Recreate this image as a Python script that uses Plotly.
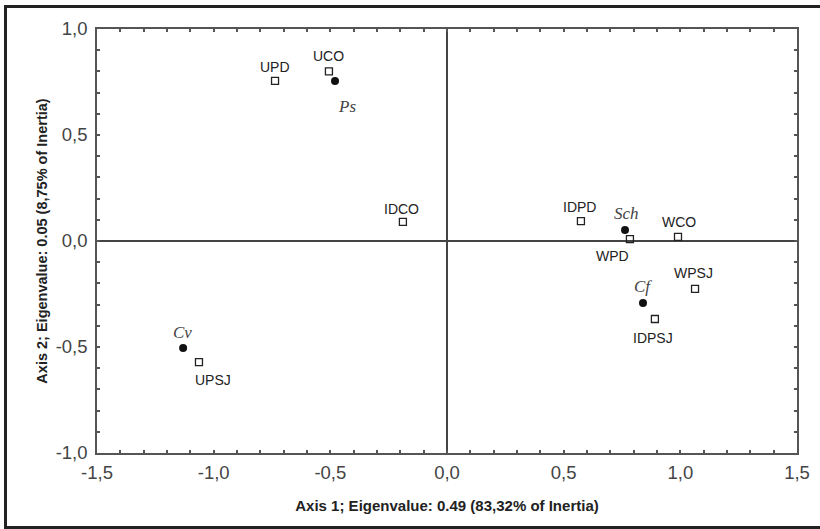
import plotly.graph_objects as go

# Column points (open squares)
sq_names = ["UPD", "UCO", "IDCO", "IDPD", "WPD", "WCO", "WPSJ", "IDPSJ", "UPSJ"]
sq_x = [-0.737, -0.506, -0.189, 0.574, 0.784, 0.990, 1.063, 0.891, -1.063]
sq_y = [0.755, 0.800, 0.090, 0.094, 0.009, 0.019, -0.226, -0.368, -0.571]

# Row points (filled dots, species)
sp_names = ["Ps", "Sch", "Cf", "Cv"]
sp_x = [-0.480, 0.763, 0.840, -1.131]
sp_y = [0.755, 0.052, -0.292, -0.505]

x_ticks = [-1.5, -1.0, -0.5, 0.0, 0.5, 1.0, 1.5]
x_tick_text = ["-1,5", "-1,0", "-0,5", "0,0", "0,5", "1,0", "1,5"]
y_ticks = [-1.0, -0.5, 0.0, 0.5, 1.0]
y_tick_text = ["-1,0", "-0,5", "0,0", "0,5", "1,0"]

x_title = "Axis 1; Eigenvalue: 0.49 (83,32% of Inertia)"
y_title = "Axis 2; Eigenvalue: 0.05 (8,75% of Inertia)"

# label offsets in pixels (xshift, yshift)
sq_shift = {"UPD": (0, 14), "UCO": (0, 15), "IDCO": (-1, 13), "IDPD": (-1, 14),
            "WPD": (-17, -17), "WCO": (1, 15), "WPSJ": (-2, 16), "IDPSJ": (-2, -19),
            "UPSJ": (14, -18)}
sp_shift = {"Ps": (12, -26), "Sch": (1, 16), "Cf": (0, 16), "Cv": (-1, 16)}

fig = go.Figure()
fig.add_trace(go.Scatter(x=sq_x, y=sq_y, mode="markers",
                         marker=dict(symbol="square-open", size=7, color="#222",
                                     line=dict(width=1.3, color="#222")),
                         showlegend=False, hoverinfo="text", text=sq_names))
fig.add_trace(go.Scatter(x=sp_x, y=sp_y, mode="markers",
                         marker=dict(symbol="circle", size=8, color="#111"),
                         showlegend=False, hoverinfo="text", text=sp_names))

for n, x, y in zip(sq_names, sq_x, sq_y):
    dx, dy = sq_shift[n]
    fig.add_annotation(x=x, y=y, text=n, showarrow=False, xshift=dx, yshift=dy,
                       font=dict(family="Liberation Sans, Arial", size=14, color="#222"))
for n, x, y in zip(sp_names, sp_x, sp_y):
    dx, dy = sp_shift[n]
    fig.add_annotation(x=x, y=y, text="<i>" + n + "</i>", showarrow=False, xshift=dx, yshift=dy,
                       font=dict(family="Liberation Serif, Times New Roman", size=17, color="#444"))

# outer frame (page px: left 5.5, top 6.5, bottom 527.5; right edge beyond view)
fig.add_shape(type="rect", xref="paper", yref="paper",
              x0=(5.5 - 97) / 700, x1=1.06, y0=(453 - 527.5) / 424, y1=(453 - 6.5) / 424,
              line=dict(color="#222", width=3), fillcolor="rgba(0,0,0,0)", layer="below")

axis_common = dict(showgrid=False, showline=True, mirror="allticks", linecolor="#555", linewidth=1.5,
                   zeroline=True, zerolinecolor="#444", zerolinewidth=1.5,
                   ticks="inside", ticklen=3, tickcolor="#555", tickwidth=1.5,
                   automargin=False,
                   tickfont=dict(family="Liberation Sans, Arial", size=18.5, color="#444"),
                   minor=dict(dtick=0.1, ticks="inside", ticklen=3, tickcolor="#555", tickwidth=1.5))

fig.update_xaxes(range=[-1.5, 1.5], tickvals=x_ticks, ticktext=x_tick_text, **axis_common,
                 ticklabelstandoff=2,
                 title=dict(text="<b>" + x_title + "</b>", standoff=19,
                            font=dict(family="Liberation Sans, Arial", size=15, color="#222")))
fig.update_yaxes(range=[-1.0, 1.0], tickvals=y_ticks, ticktext=y_tick_text, **axis_common,
                 ticklabelstandoff=4,
                 title=dict(text="<b>" + y_title + "</b>", standoff=5,
                            font=dict(family="Liberation Sans, Arial", size=14.5, color="#222")))

fig.update_layout(width=820, height=529, separators=", ",
                  margin=dict(l=97, r=23, t=29, b=76),
                  plot_bgcolor="white", paper_bgcolor="white")

fig.write_html("out.html", config={"displayModeBar": False},
               post_script="document.body.style.margin='0';document.body.style.overflow='hidden';"
                           "document.documentElement.style.overflow='hidden';")
